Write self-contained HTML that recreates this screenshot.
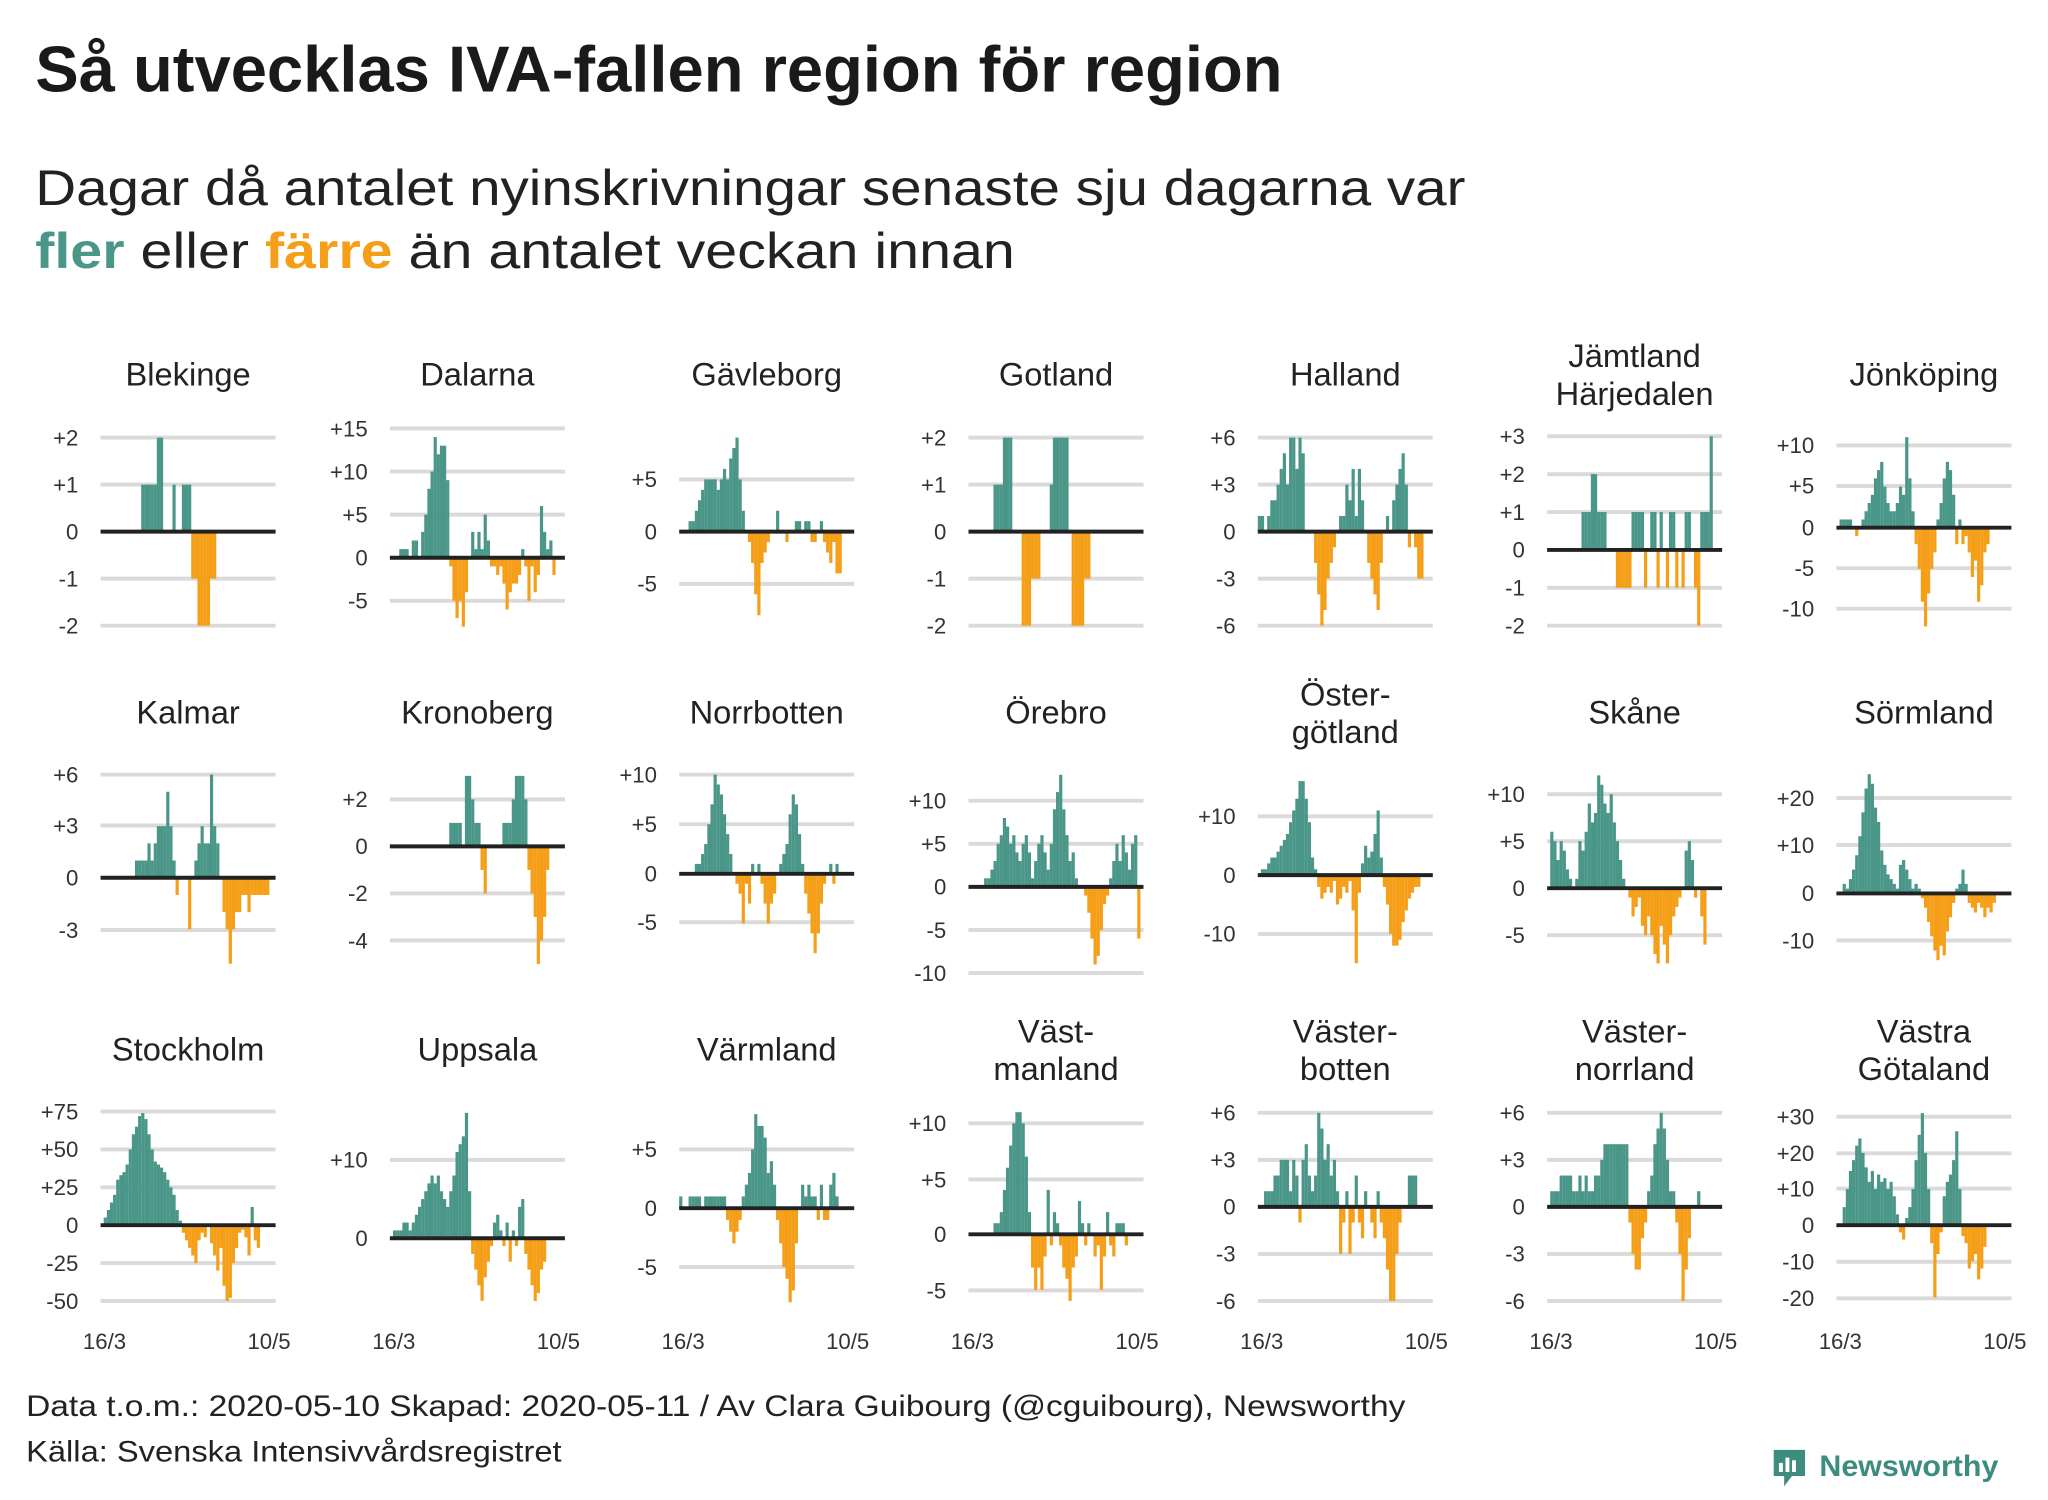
<!DOCTYPE html>
<html><head><meta charset="utf-8">
<style>html,body{margin:0;padding:0;background:#fff}svg{display:block}</style>
</head><body>
<svg id="s" xmlns="http://www.w3.org/2000/svg" width="2048" height="1500" viewBox="0 0 1568 1148.4" font-family="'Liberation Sans', sans-serif">
<rect width="1568" height="1148.4" fill="#fff"/>
<text x="27" y="70" font-size="50" font-weight="bold" fill="#1a1a1a" textLength="955" lengthAdjust="spacingAndGlyphs">Så utvecklas IVA-fallen region för region</text>
<text x="27" y="157" font-size="38" fill="#222" textLength="1095" lengthAdjust="spacingAndGlyphs">Dagar då antalet nyinskrivningar senaste sju dagarna var</text>
<text x="27" y="205" font-size="38" fill="#222" textLength="750" lengthAdjust="spacingAndGlyphs"><tspan fill="#4a9689" font-weight="bold">fler</tspan> eller <tspan fill="#f59e18" font-weight="bold">färre</tspan> än antalet veckan innan</text>
<text x="20" y="1084" font-size="23" fill="#222" textLength="1056" lengthAdjust="spacingAndGlyphs">Data t.o.m.: 2020-05-10 Skapad: 2020-05-11 / Av Clara Guibourg (@cguibourg), Newsworthy</text>
<text x="20" y="1119" font-size="23" fill="#222" textLength="410" lengthAdjust="spacingAndGlyphs">Källa: Svenska Intensivvårdsregistret</text>
<path d="M1358 1110 h24 v20 h-10 l-6 8 v-8 h-8z" fill="#3d8c80"/>
<rect x="1362" y="1120" width="3" height="7" fill="#fff"/><rect x="1367" y="1116" width="3" height="11" fill="#fff"/><rect x="1372" y="1118" width="3" height="9" fill="#fff"/>
<text x="1393" y="1130" font-size="23" font-weight="bold" fill="#3d8c80" textLength="137" lengthAdjust="spacingAndGlyphs">Newsworthy</text>
<g id="g"></g>
</svg>
<script>
var P=[
["Blekinge",0,0,[[2,335],[1,371],[0,407],[-1,443],[-2,479]],13,[1,1,1,1,1,2,2,0,0,0,1,0,0,1,1,1,-1,-1,-2,-2,-2,-2,-1,-1]],
["Dalarna",1,0,[[15,328],[10,361],[5,394],[0,427],[-5,460]],3,[1,1,1,0,2,2,0,3,5,8,10,14,12,13,13,9,-1,-5,-7,-5,-8,-4,0,3,1,3,1,5,2,-1,-1,-2,-1,-3,-6,-4,-3,-3,-2,1,-1,-5,-1,-4,-2,6,3,1,2,-2]],
["Gävleborg",2,0,[[5,367],[0,407],[-5,447]],3,[1,1,2,3,4,5,5,5,5,4,5,6,5,7,8,9,5,2,0,-1,-3,-6,-8,-3,-2,-1,0,0,2,0,0,-1,0,0,1,1,0,1,1,-1,-1,0,1,-1,-2,-3,-1,-4,-4]],
["Gotland",3,0,[[2,335],[1,371],[0,407],[-1,443],[-2,479]],8,[1,1,1,2,2,2,0,0,0,-2,-2,-2,-1,-1,-1,0,0,0,1,2,2,2,2,2,0,-2,-2,-2,-2,-1,-1]],
["Halland",4,0,[[6,335],[3,371],[0,407],[-3,443],[-6,479]],0,[1,1,0,1,2,2,3,4,5,3,6,6,4,6,5,0,0,0,-2,-4,-6,-5,-3,-2,-1,0,1,1,3,2,4,1,4,2,0,-2,-3,-4,-5,-2,0,1,0,2,3,4,5,3,-1,0,-1,-3,-3]],
["Jämtland|Härjedalen",5,0,[[3,334],[2,363],[1,392],[0,421],[-1,450],[-2,479]],11,[1,1,1,2,2,1,1,1,0,0,0,-1,-1,-1,-1,-1,1,1,1,1,-1,0,1,1,-1,1,0,-1,1,1,-1,0,-1,1,1,0,-1,-2,1,1,1,3]],
["Jönköping",6,0,[[10,341],[5,372],[0,404],[-5,435],[-10,466]],1,[1,1,1,1,0,-1,0,1,2,3,4,6,7,8,5,3,2,2,3,5,4,11,6,2,-2,-5,-9,-12,-8,-5,-3,1,3,6,8,7,4,-2,1,-2,-1,-3,-6,-4,-9,-7,-3,-2]],
["Kalmar",0,1,[[6,593],[3,632],[0,672],[-3,712]],11,[1,1,1,1,2,1,2,3,3,3,5,3,1,-1,0,0,0,-3,0,1,2,3,2,2,6,3,2,0,-2,-3,-5,-3,-2,-2,-1,-1,-2,-1,-1,-1,-1,-1,-1]],
["Kronoberg",1,1,[[2,612],[0,648],[-2,684],[-4,720]],19,[1,1,1,1,0,3,3,2,1,1,-1,-2,0,0,0,0,0,1,1,1,2,3,3,3,2,-1,-2,-3,-5,-4,-3,-1]],
["Norrbotten",2,1,[[10,593],[5,631],[0,669],[-5,706]],5,[1,1,2,3,5,7,10,9,8,6,4,2,0,-1,-2,-5,-1,-3,1,0,1,-1,-3,-5,-3,-2,0,1,2,3,6,8,7,4,1,-2,-4,-6,-8,-6,-3,-1,0,1,-1,1]],
["Örebro",3,1,[[10,613],[5,646],[0,679],[-5,712],[-10,745]],5,[1,1,2,3,5,6,8,7,5,6,4,3,5,6,4,1,3,5,6,4,2,5,9,11,13,9,6,3,4,1,0,0,-1,-3,-6,-9,-8,-5,-2,-1,1,3,5,3,6,4,2,5,6,-6]],
["Öster-|götland",4,1,[[10,625],[0,670],[-10,715]],1,[1,1,2,3,3,4,5,6,7,9,11,13,16,16,13,9,3,1,-2,-4,-3,-2,-3,-1,-5,-4,-2,-3,-1,-6,-15,-3,2,5,3,4,7,11,3,-2,-5,-10,-12,-12,-11,-8,-6,-4,-3,-2,-2]],
["Skåne",5,1,[[10,608],[5,644],[0,680],[-5,716]],1,[6,5,3,5,4,2,1,0,1,5,4,6,9,7,8,12,11,9,8,10,7,5,3,1,0,-1,-3,-2,-1,-4,-5,-3,-5,-7,-8,-4,-6,-8,-5,-3,-2,-1,0,4,5,3,-1,0,-3,-6]],
["Sörmland",6,1,[[20,611],[10,647],[0,684],[-10,720]],2,[2,1,3,5,8,12,17,22,25,23,18,15,9,6,4,3,2,1,6,7,5,3,1,2,1,-1,-3,-6,-9,-12,-14,-11,-13,-8,-5,-2,1,2,5,2,-2,-3,-4,-2,-3,-5,-3,-4,-2]],
["Stockholm",0,2,[[75,851],[50,880],[25,909],[0,938],[-25,967],[-50,996]],1,[5,10,15,20,30,33,35,40,50,60,65,72,74,70,60,50,42,40,38,35,30,25,20,10,3,-5,-10,-15,-20,-25,-10,-5,-8,0,-12,-20,-30,-15,-40,-50,-48,-25,-15,-5,-3,-8,-20,12,-10,-15]],
["Uppsala",1,2,[[10,888],[0,948]],1,[1,1,1,2,2,1,2,3,4,5,6,7,8,7,8,6,5,4,6,8,11,12,13,16,6,-2,-4,-6,-8,-5,-3,-1,2,3,1,-1,2,-3,1,-1,4,5,-2,-4,-6,-8,-7,-4,-3]],
["Värmland",2,2,[[5,880],[0,925],[-5,970]],0,[1,0,0,1,1,1,1,0,1,1,1,1,1,1,1,-1,-2,-3,-2,-1,1,2,3,5,8,7,7,6,3,4,2,-1,-3,-5,-6,-8,-7,-3,0,2,1,2,1,1,-1,2,-1,-1,2,3,1]],
["Väst-|manland",3,2,[[10,860],[5,903],[0,945],[-5,988]],8,[1,1,2,4,6,8,10,11,11,10,7,2,-3,-5,-3,-5,-2,4,-1,2,1,-1,-3,-4,-6,-3,-2,3,1,-1,1,0,-2,-1,-5,-2,2,-1,-2,1,1,1,-1]],
["Väster-|botten",4,2,[[6,852],[3,888],[0,924],[-3,960],[-6,996]],2,[1,1,1,2,2,3,3,3,1,3,2,-1,3,4,2,1,2,6,5,3,4,2,3,1,-3,-1,1,-3,-1,2,-1,-2,1,0,-1,-2,1,-1,-2,-4,-6,-6,-3,-1,0,0,2,2,2]],
["Väster-|norrland",5,2,[[6,852],[3,888],[0,924],[-3,960],[-6,996]],1,[1,1,1,2,2,2,2,1,1,2,1,2,1,1,2,2,3,4,4,4,4,4,4,4,4,-1,-3,-4,-4,-2,-1,1,2,4,5,6,5,3,1,1,-1,-3,-6,-4,-2,0,0,1]],
["Västra|Götaland",6,2,[[30,855],[20,883],[10,910],[0,938],[-10,966],[-20,994]],2,[5,10,15,18,22,24,20,16,12,15,10,14,12,13,10,12,8,3,-2,-4,2,5,10,18,25,31,20,10,-5,-20,-8,-2,8,12,14,18,26,10,-3,-5,-12,-10,-8,-15,-12,-6]]
];
var g=document.getElementById("g"),h="";
var ty=[287,546,804];
P.forEach(function(p){
 var x0=77+p[1]*221.5,W=134,t=p[3],bw=W/56;
 var z=0,k=0;t.forEach(function(q){if(q[0]==0)z=q[1];});
 var a=t[0];k=(z-a[1])/a[0];
 var nm=p[0].split("|");
 if(nm.length==1)h+='<text x="'+(x0+67)+'" y="'+(ty[p[2]]+8)+'" font-size="25" fill="#222" text-anchor="middle">'+nm[0]+'</text>';
 else{h+='<text x="'+(x0+67)+'" y="'+(ty[p[2]]-6)+'" font-size="25" fill="#222" text-anchor="middle">'+nm[0]+'</text>';
  h+='<text x="'+(x0+67)+'" y="'+(ty[p[2]]+23)+'" font-size="25" fill="#222" text-anchor="middle">'+nm[1]+'</text>';}
 t.forEach(function(q){
  if(q[0]!=0)h+='<line x1="'+x0+'" x2="'+(x0+W)+'" y1="'+q[1]+'" y2="'+q[1]+'" stroke="#dadada" stroke-width="3"/>';
  h+='<text x="'+(x0-17)+'" y="'+(q[1]+6)+'" font-size="17" fill="#333" text-anchor="end">'+(q[0]>0?"+":"")+q[0]+'</text>';
 });
 p[5].forEach(function(v,i){var d=p[4]+i;if(d>55||v==0)return;var x=x0+d*bw,y=z-v*k;
  h+='<rect x="'+x.toFixed(2)+'" y="'+Math.min(y,z).toFixed(2)+'" width="'+(bw+0.05).toFixed(2)+'" height="'+Math.abs(z-y).toFixed(2)+'" fill="'+(v>0?"#4a9689":"#f59e18")+'"/>';});
 h+='<line x1="'+x0+'" x2="'+(x0+W)+'" y1="'+z+'" y2="'+z+'" stroke="#222" stroke-width="3"/>';
 if(p[2]==2){h+='<text x="'+(x0+3)+'" y="1033" font-size="17" fill="#333" text-anchor="middle">16/3</text><text x="'+(x0+129)+'" y="1033" font-size="17" fill="#333" text-anchor="middle">10/5</text>';}
});
g.innerHTML=h;
</script>
</body></html>
